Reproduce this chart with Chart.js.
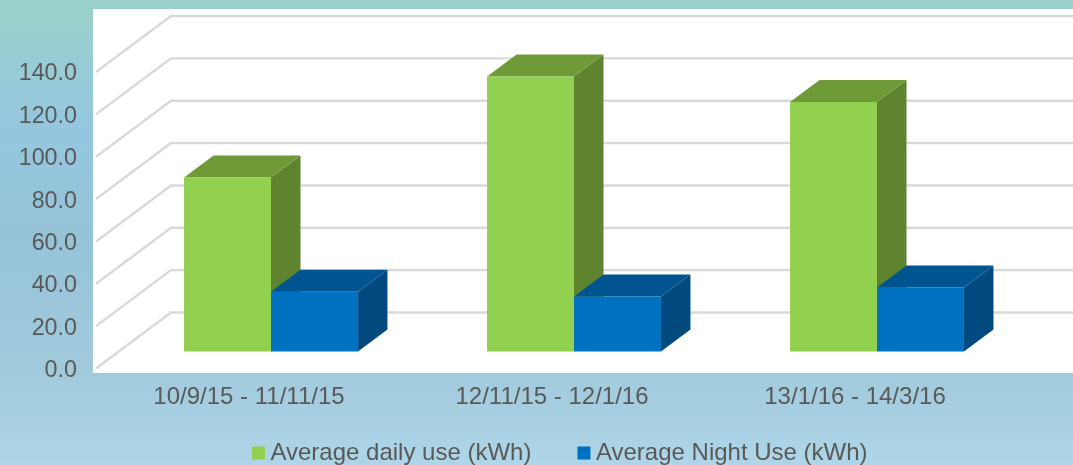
<!DOCTYPE html>
<html>
<head>
<meta charset="utf-8">
<script src="https://cdn.jsdelivr.net/npm/chart.js@4"></script>
<style>
html,body{margin:0;padding:0;width:1073px;height:465px;overflow:hidden;
background:linear-gradient(180deg,#9BD1CA 0%,#94C7DF 28%,#96C3D8 50%,#A1CADC 80%,#AED5E8 100%);}
canvas{display:block}
</style>
</head>
<body>
<canvas id="c" width="1073" height="465"></canvas>
<script>
const categories = ['10/9/15 - 11/11/15', '12/11/15 - 12/1/16', '13/1/16 - 14/3/16'];
const dailyUse = [82.2, 129.8, 117.8];
const nightUse = [28.2, 26.0, 30.2];
const seriesNames = ['Average daily use (kWh)', 'Average Night Use (kWh)'];
const frontColors = ['#92D050', '#0070C0'];
const topColors = ['#6F9A38', '#005590'];
const sideColors = ['#5E8430', '#004A80'];

const WALL_DX = 75, WALL_DY = 56;     // floor depth of the 3D box
const BAR_SHIFT_X = 22, BAR_SHIFT_Y = 17; // bars stand part-way in
const BAR_DX = 29.5, BAR_DY = 22;     // depth of each bar

const scene = {
  id: 'scene',
  beforeDraw(chart) {
    const ctx = chart.ctx, y = chart.scales.y, x0 = 96;
    ctx.save();
    ctx.fillStyle = '#FFFFFF';
    ctx.fillRect(93, 9, 980, 364);
    ctx.strokeStyle = '#D9D9D9';
    ctx.lineWidth = 2.4;
    y.ticks.forEach(t => {
      const py = y.getPixelForValue(t.value);
      ctx.beginPath();
      ctx.moveTo(x0, py);
      ctx.lineTo(x0 + WALL_DX, py - WALL_DY);
      ctx.lineTo(1073, py - WALL_DY);
      ctx.stroke();
    });
    ctx.restore();
  },
  beforeDatasetsDraw(chart) {
    const ctx = chart.ctx;
    ctx.save();
    ctx.translate(BAR_SHIFT_X, -BAR_SHIFT_Y);
    [0, 1].forEach(i => {
      chart.getDatasetMeta(i).data.forEach(el => {
        const p = el.getProps(['x', 'y', 'base', 'width'], true);
        const l = p.x - p.width / 2, r = p.x + p.width / 2;
        ctx.fillStyle = sideColors[i];
        ctx.beginPath();
        ctx.moveTo(r, p.y);
        ctx.lineTo(r + BAR_DX, p.y - BAR_DY);
        ctx.lineTo(r + BAR_DX, p.base - BAR_DY);
        ctx.lineTo(r, p.base);
        ctx.closePath();
        ctx.fill();
        ctx.fillStyle = topColors[i];
        ctx.beginPath();
        ctx.moveTo(l, p.y);
        ctx.lineTo(l + BAR_DX, p.y - BAR_DY);
        ctx.lineTo(r + BAR_DX, p.y - BAR_DY);
        ctx.lineTo(r, p.y);
        ctx.closePath();
        ctx.fill();
      });
    });
  },
  afterDatasetsDraw(chart) {
    chart.ctx.restore();
  },
  afterLayout(chart) {
    chart.legend.left += 11;
    chart.legend.right += 11;
    chart.legend.top -= 20;
    chart.legend.bottom -= 20;
    const s = chart.scales.y, ctx = chart.ctx, draw = s.drawLabels.bind(s);
    s.drawLabels = area => {
      ctx.save();
      ctx.translate(0, 2);
      draw(area);
      ctx.restore();
    };
  }
};

new Chart(document.getElementById('c'), {
  type: 'bar',
  data: {
    labels: categories,
    datasets: [
      { label: seriesNames[0], data: dailyUse, backgroundColor: frontColors[0], borderColor: frontColors[0], clip: false, pointStyle: 'rect' },
      { label: seriesNames[1], data: nightUse, backgroundColor: frontColors[1], borderColor: frontColors[1], clip: false, pointStyle: 'rect' }
    ]
  },
  options: {
    responsive: false,
    animation: false,
    devicePixelRatio: 1,
    layout: { padding: { top: 72, right: 66.5, left: 0, bottom: -30 } },
    datasets: { bar: { barPercentage: 1, categoryPercentage: 0.574 } },
    font: { family: '"Liberation Sans", Arial, sans-serif' },
    scales: {
      x: {
        grid: { display: false, drawTicks: false },
        border: { display: false },
        ticks: { color: '#595959', padding: 14, maxRotation: 0, font: { size: 24, family: '"Liberation Sans"' } },
        afterFit(s) { s.height = 40; }
      },
      y: {
        min: 0, max: 140,
        grid: { display: false, drawTicks: false },
        border: { display: false },
        ticks: {
          stepSize: 20, color: '#595959', padding: 20.5,
          font: { size: 23.3, family: '"Liberation Sans"' },
          callback: v => v.toFixed(1)
        },
        afterFit(s) { s.width = 97.5; }
      }
    },
    plugins: {
      tooltip: { enabled: false },
      legend: {
        position: 'bottom',
        fullSize: false,
        labels: {
          usePointStyle: true, boxWidth: 0.01, boxHeight: 13, padding: 52.5,
          color: '#595959', font: { size: 24, family: '"Liberation Sans"' }
        }
      }
    }
  },
  plugins: [scene]
});
</script>
</body>
</html>
